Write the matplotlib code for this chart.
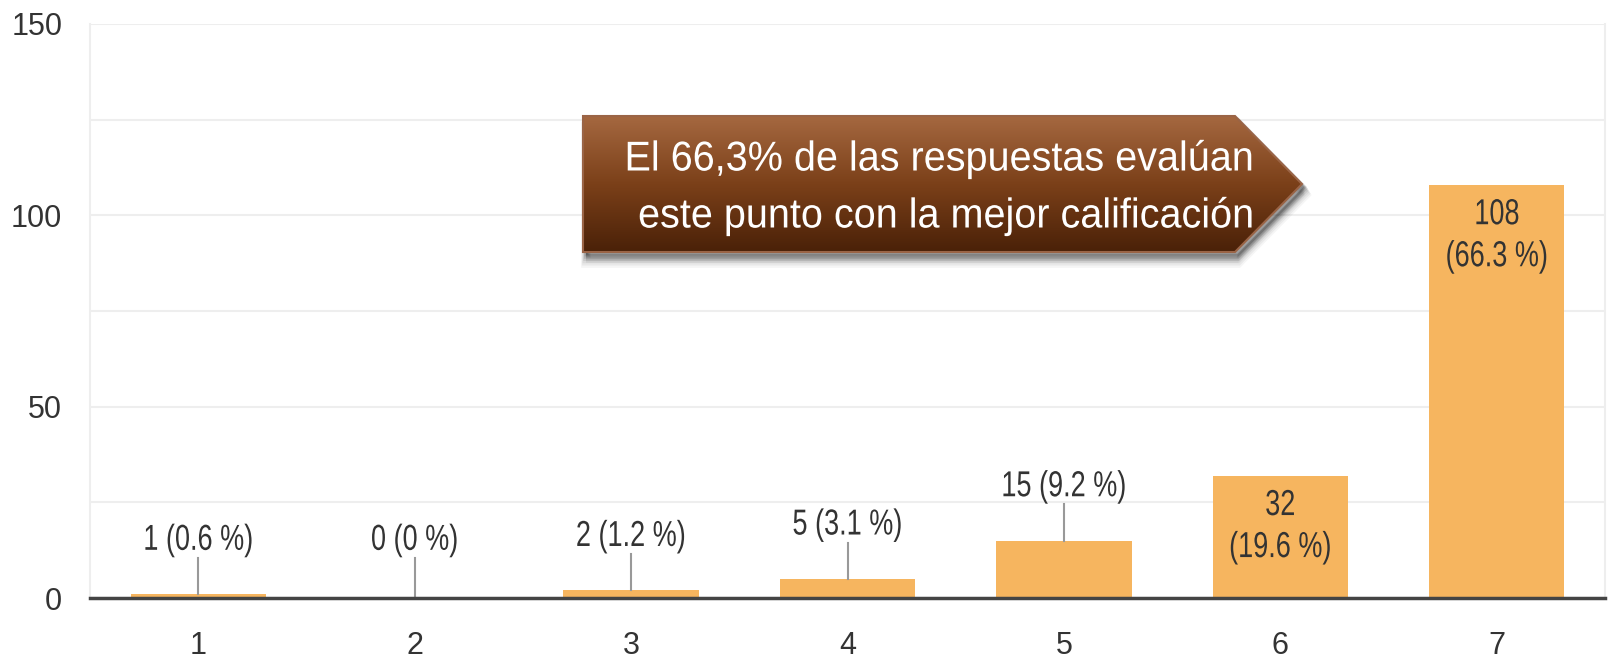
import numpy as np
import matplotlib
matplotlib.use("Agg")
import matplotlib.pyplot as plt
from matplotlib.patches import Polygon
from matplotlib.patheffects import AbstractPathEffect
from matplotlib.transforms import Affine2D
from matplotlib.colors import LinearSegmentedColormap

plt.rcParams['font.family'] = ['Liberation Sans', 'DejaVu Sans']


class Squeeze(AbstractPathEffect):
    """Draw text narrower (the chart uses a condensed Arial); the text stays a Text artist."""

    def __init__(self, sx, anchor='center'):
        super().__init__()
        self.sx = sx
        self.anchor = anchor

    def draw_path(self, renderer, gc, tpath, affine, rgbFace=None):
        ext = tpath.get_extents(affine)
        if self.anchor == 'right':
            cx = ext.x1
        elif self.anchor == 'left':
            cx = ext.x0
        else:
            cx = (ext.x0 + ext.x1) / 2
        sq = Affine2D().translate(-cx, 0).scale(self.sx, 1).translate(cx, 0)
        renderer.draw_path(gc, tpath, affine + sq, rgbFace)


# data
categories = ['1', '2', '3', '4', '5', '6', '7']
counts = [1, 0, 2, 5, 15, 32, 108]
percents = ['0.6', '0', '1.2', '3.1', '9.2', '19.6', '66.3']
inside = [False, False, False, False, False, True, True]
callout_lines = ['El 66,3% de las respuestas evalúan',
                 'este punto con la mejor calificación']

bar_color = '#F6B55F'
text_color = '#333333'
label_size = 26

fig = plt.figure(figsize=(16.1, 6.6), dpi=100)
ax = fig.add_axes([90 / 1610, 1 - 598 / 660, 1515 / 1610, (598 - 24) / 660])

x = np.arange(1, len(categories) + 1)
ax.bar(x, counts, width=0.625, color=bar_color, zorder=2)

ax.set_xlim(0.5, 7.5)
ax.set_ylim(0, 150)
ax.set_yticks([0, 50, 100, 150])
ax.set_yticks([25, 75, 125], minor=True)
ax.set_xticks(x)
ax.set_xticklabels(categories)
ax.tick_params(axis='both', length=0, labelsize=22, colors=text_color)
ax.tick_params(axis='x', pad=24)
ax.tick_params(axis='y', pad=20)
ax.tick_params(which='minor', length=0)
ax.grid(axis='y', which='both', color='#EEEEEE', linewidth=1.5, zorder=0)

ax.spines['top'].set_visible(False)
for side in ['left', 'right']:
    ax.spines[side].set_color('#EEEEEE')
    ax.spines[side].set_linewidth(1.5)
ax.spines['bottom'].set_color('#444444')
ax.spines['bottom'].set_linewidth(2.5)
ax.spines['bottom'].set_zorder(3)

# value labels
for xi, c, p, ins in zip(x, counts, percents, inside):
    if ins:
        ax.annotate(f'{c}\n({p} %)', (xi, c), xytext=(0, -9), textcoords='offset points',
                    ha='center', va='top', fontsize=label_size, color=text_color,
                    linespacing=1.26, zorder=4, path_effects=[Squeeze(0.75)])
    else:
        top = max(c + 9.5, 10.5)
        ax.plot([xi, xi], [c, top], color='#999999', linewidth=1.5, zorder=3)
        ax.annotate(f'{c} ({p} %)', (xi, top), xytext=(0, 0), textcoords='offset points',
                    ha='center', va='bottom', fontsize=label_size, color=text_color,
                    zorder=4, path_effects=[Squeeze(0.75)])

# callout arrow box, drawn in pixel units on its own axes
x0, x1, y0, y1 = 560, 1330, 100, 285
cax = fig.add_axes([x0 / 1610, 1 - y1 / 660, (x1 - x0) / 1610, (y1 - y0) / 660])
cax.set_xlim(x0, x1)
cax.set_ylim(y1, y0)
cax.axis('off')

left, body_right, tip, top_y, bot_y = 583, 1235, 1302, 116, 252
pts = [(left, top_y), (body_right, top_y), (tip, (top_y + bot_y) / 2),
       (body_right, bot_y), (left, bot_y)]

# soft shadow
for i, a in enumerate([0.04, 0.05, 0.06, 0.08, 0.10, 0.12]):
    off = 11 - i * 1.6
    sh = Polygon([(px + 3, py + off) for px, py in pts], closed=True,
                 facecolor='#000000', edgecolor='#000000', linewidth=7 - i,
                 alpha=a, zorder=1)
    cax.add_patch(sh)

grad_cmap = LinearSegmentedColormap.from_list('brown', ['#A56840', '#7B4019', '#4A2108'])
grad = np.linspace(0, 1, 256).reshape(-1, 1)
im = cax.imshow(grad, cmap=grad_cmap, aspect='auto',
                extent=[left, tip, bot_y, top_y], zorder=2)
clip = Polygon(pts, closed=True, facecolor='none', edgecolor='none')
cax.add_patch(clip)
im.set_clip_path(clip)
cax.add_patch(Polygon(pts, closed=True, facecolor='none', edgecolor='#9A6446',
                      linewidth=1.5, zorder=3))

cax.text(1253, 159, callout_lines[0], ha='right', va='center', color='white',
         fontsize=30, zorder=4, path_effects=[Squeeze(0.95, 'right')])
cax.text(1253, 216, callout_lines[1], ha='right', va='center', color='white',
         fontsize=30, zorder=4, path_effects=[Squeeze(0.95, 'right')])

fig.savefig('out.png', dpi=100)
